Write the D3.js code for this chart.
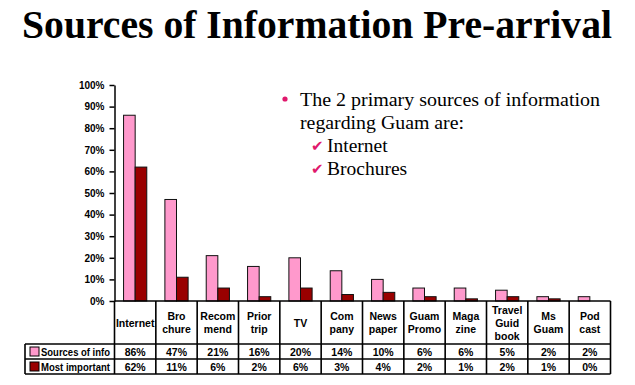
<!DOCTYPE html>
<html><head><meta charset="utf-8">
<script src="https://cdn.jsdelivr.net/npm/d3@7"></script>
<style>body{margin:0;background:#fff}</style>
</head><body>
<svg id="c" width="635" height="385"></svg>
<script>
const categories = [["Internet"],["Bro","chure"],["Recom","mend"],["Prior","trip"],["TV"],["Com","pany"],["News","paper"],["Guam","Promo"],["Maga","zine"],["Travel","Guid","book"],["Ms","Guam"],["Pod","cast"]];
const seriesNames = ["Sources of info","Most important"];
const sourcesOfInfo = [86,47,21,16,20,14,10,6,6,5,2,2];
const mostImportant = [62,11,6,2,6,3,4,2,1,2,1,0];
const yTicks = [0,10,20,30,40,50,60,70,80,90,100];
const colors = ["#FF99CC","#990000"];
const bulletLines = ["The 2 primary sources of information","regarding Guam are:"];
const checkItems = ["Internet","Brochures"];

(function(){
const svg = d3.select("#c");
const pL = 114.5, pR = 610.5, pT = 85, pB = 301;
const values = [sourcesOfInfo, mostImportant];

svg.append("text").attr("x",317).attr("y",38).attr("text-anchor","middle")
  .attr("font-family","Liberation Serif, Times New Roman, serif").attr("font-weight","bold")
  .attr("font-size",41).attr("textLength",590).attr("lengthAdjust","spacingAndGlyphs")
  .text("Sources of Information Pre-arrival");

const x0 = d3.scaleBand().domain(d3.range(categories.length)).range([pL,pR]).padding(0);
const x1 = d3.scaleBand().domain([0,1]).range([0,x0.bandwidth()]).paddingInner(0).paddingOuter(0.78);
const y = d3.scaleLinear().domain([0,100]).range([pB,pT]);

const g = svg.append("g");
categories.forEach((c,i)=>{
  [0,1].forEach(s=>{
    const v = values[s][i];
    g.append("rect").attr("x",x0(i)+x1(s)).attr("y",y(v)).attr("width",x1.bandwidth())
      .attr("height",Math.max(0,y(0)-y(v))).attr("fill",colors[s]).attr("stroke","#111").attr("stroke-width",1);
  });
});

const ya = svg.append("g").attr("transform",`translate(${pL},0)`)
  .call(d3.axisLeft(y).tickValues(yTicks).tickFormat(d=>d+"%").tickSize(5).tickSizeOuter(0));
ya.attr("font-size",10);
ya.select(".domain").attr("stroke","#000").attr("stroke-width",1.5);
ya.selectAll(".tick line").attr("stroke","#000").attr("stroke-width",1.5);
ya.selectAll(".tick text").attr("font-family","Liberation Sans, Arial, sans-serif").attr("font-weight","bold")
  .attr("font-size",10).attr("fill","#000").attr("x",-10);

const rowTop = 301, headBot = 344, row1 = 359, row2 = 374, legLeft = 25;
const t = svg.append("g").attr("stroke","#000").attr("stroke-width",1.6).attr("fill","none");
t.append("line").attr("x1",pL).attr("x2",pR).attr("y1",rowTop).attr("y2",rowTop);
t.append("line").attr("x1",legLeft).attr("x2",pR).attr("y1",headBot).attr("y2",headBot);
t.append("line").attr("x1",legLeft).attr("x2",pR).attr("y1",row1).attr("y2",row1);
t.append("line").attr("x1",legLeft).attr("x2",pR).attr("y1",row2).attr("y2",row2);
t.append("line").attr("x1",legLeft).attr("x2",legLeft).attr("y1",headBot).attr("y2",row2);
d3.range(categories.length+1).forEach(i=>{
  const xx = i<categories.length ? x0(i) : pR;
  t.append("line").attr("x1",xx).attr("x2",xx).attr("y1",rowTop).attr("y2",row2);
});

const tf = "Liberation Sans, Arial, sans-serif";
categories.forEach((c,i)=>{
  const cx = x0(i)+x0.bandwidth()/2;
  const lh = 13, mid = (rowTop+headBot)/2;
  c.forEach((line,k)=>{
    svg.append("text").attr("x",cx).attr("y",mid+(k-(c.length-1)/2)*lh+4)
      .attr("text-anchor","middle").attr("font-family",tf).attr("font-weight","bold").attr("font-size",10.5)
      .attr("fill","#000").text(line);
  });
  [0,1].forEach(s=>{
    svg.append("text").attr("x",cx).attr("y",(s===0?(headBot+row1)/2:(row1+row2)/2)+4)
      .attr("text-anchor","middle").attr("font-family",tf).attr("font-weight","bold").attr("font-size",10.5)
      .attr("fill","#000").text(values[s][i]+"%");
  });
});
seriesNames.forEach((n,s)=>{
  const cy = s===0?(headBot+row1)/2:(row1+row2)/2;
  svg.append("rect").attr("x",30).attr("y",cy-4.5).attr("width",9).attr("height",9)
    .attr("fill",colors[s]).attr("stroke","#000").attr("stroke-width",1);
  svg.append("text").attr("x",41).attr("y",cy+4).attr("font-family",tf).attr("font-weight","bold")
    .attr("font-size",10.5).attr("fill","#000").attr("textLength",69).attr("lengthAdjust","spacingAndGlyphs").text(n);
});

const sf = "Liberation Serif, Times New Roman, serif";
const bulletLens = [300, 164];
svg.append("circle").attr("cx",285).attr("cy",99).attr("r",2.6).attr("fill","#E0186C");
bulletLines.forEach((l,k)=>{
  svg.append("text").attr("x",300).attr("y",106+k*23).attr("font-family",sf).attr("font-size",19.5)
    .attr("fill","#000").attr("textLength",bulletLens[k]).attr("lengthAdjust","spacingAndGlyphs").text(l);
});
checkItems.forEach((l,k)=>{
  svg.append("text").attr("x",311).attr("y",151+k*23).attr("font-family","DejaVu Sans, sans-serif").attr("font-size",15)
    .attr("fill","#E0186C").text("\u2714");
  svg.append("text").attr("x",327).attr("y",152+k*23).attr("font-family",sf).attr("font-size",19.5)
    .attr("fill","#000").text(l);
});
})();
</script>
</body></html>
